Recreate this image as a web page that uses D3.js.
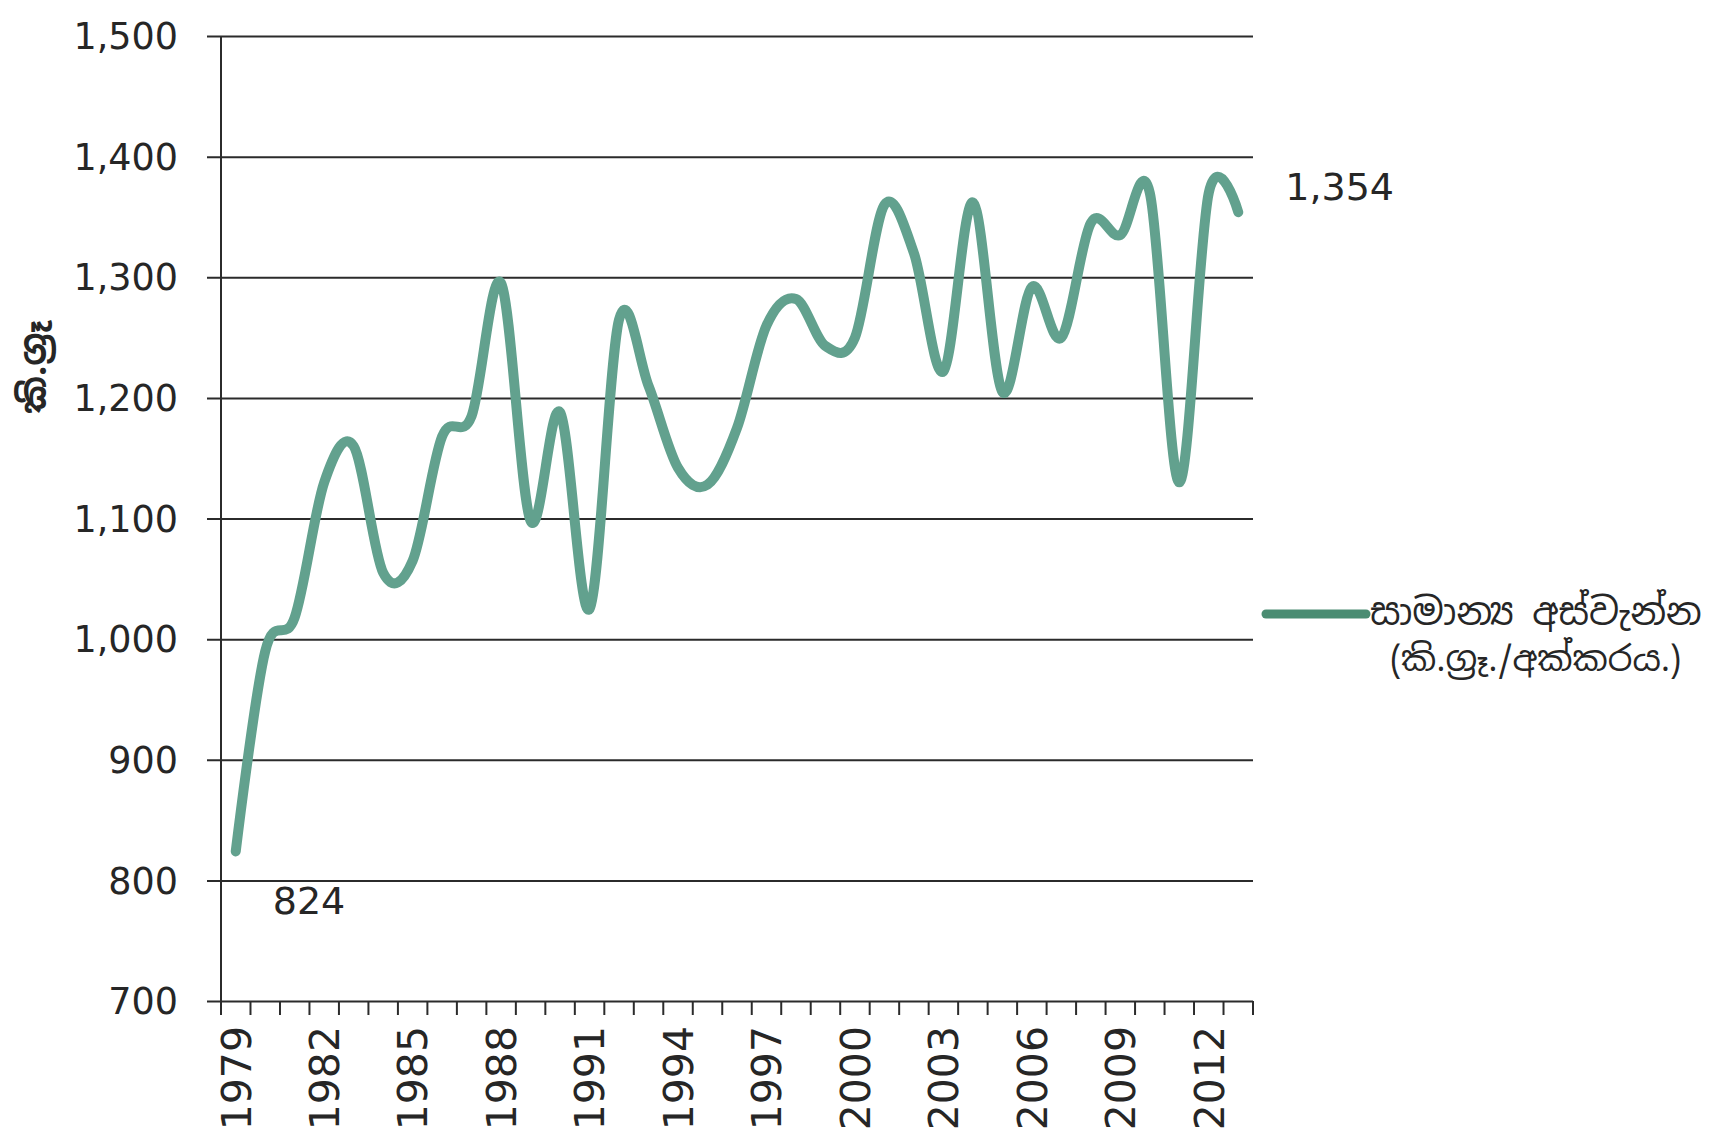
<!DOCTYPE html>
<html>
<head>
<meta charset="utf-8">
<script src="https://cdn.jsdelivr.net/npm/d3@7/dist/d3.min.js"></script>
<style>
body { margin: 0; background: #ffffff; }
text { font-family: "DejaVu Sans", Verdana, sans-serif; fill: #262626; }
.si { font-family: "Noto Sans Sinhala", "Iskoola Pota", "Noto Sans", sans-serif; }
.grid line { stroke: #2b2b2b; stroke-width: 2; }
.grid path { display: none; }
</style>
</head>
<body>
<div id="chart"></div>
<script>
let years = [1979, 1980, 1981, 1982, 1983, 1984, 1985, 1986, 1987, 1988,
    1989, 1990, 1991, 1992, 1993, 1994, 1995, 1996, 1997, 1998,
    1999, 2000, 2001, 2002, 2003, 2004, 2005, 2006, 2007, 2008,
    2009, 2010, 2011, 2012, 2013];

// average yield, kg per acre
let yields = [824, 990, 1018, 1130, 1160, 1055, 1065, 1168, 1185, 1295,
    1098, 1188, 1025, 1265, 1210, 1142, 1128, 1175, 1260, 1282,
    1243, 1250, 1360, 1320, 1222, 1362, 1205, 1292, 1250, 1345,
    1335, 1370, 1130, 1370, 1354];

let yTicks = [700, 800, 900, 1000, 1100, 1200, 1300, 1400, 1500];
let xLabelYears = [1979, 1982, 1985, 1988, 1991, 1994, 1997, 2000, 2003, 2006, 2009, 2012];

let yTitle = 'කි.ග්‍රෑ';
let legendLines = ['සාමාන්‍ය අස්වැන්න', '(කි.ග්‍රෑ./අක්කරය.)'];

let svgWidth = 1719;
let svgHeight = 1144;

let margin = { top: 36, right: 466, bottom: 143, left: 221 };
let chartWidth = svgWidth - margin.left - margin.right;
let chartHeight = svgHeight - margin.top - margin.bottom;

let lineColor = '#62a18e';

let $svg = d3.select('#chart')
    .append('svg')
    .attr('width', svgWidth)
    .attr('height', svgHeight);

$svg.append('rect')
    .attr('width', svgWidth)
    .attr('height', svgHeight)
    .attr('fill', '#ffffff');

let chartGroup = $svg.append('g')
    .attr('transform', `translate(${margin.left}, ${margin.top})`);

// scales
let xBand = d3.scaleBand()
    .domain(years)
    .range([0, chartWidth])
    .paddingInner(0)
    .paddingOuter(0);

let xCenter = yr => xBand(yr) + xBand.bandwidth() / 2;

let yLinearScale = d3.scaleLinear()
    .domain([700, 1500])
    .range([chartHeight, 0]);

// gridlines, running a bit past the axis as ticks
chartGroup.append('g')
    .attr('class', 'grid')
    .attr('transform', `translate(${chartWidth}, 0)`)
    .call(d3.axisLeft(yLinearScale)
        .tickValues(yTicks)
        .tickSize(chartWidth + 14)
        .tickFormat(''));

// y axis line
chartGroup.append('line')
    .attr('x1', 0).attr('x2', 0)
    .attr('y1', 0).attr('y2', chartHeight)
    .attr('stroke', '#2b2b2b')
    .attr('stroke-width', 2);

// y tick labels
chartGroup.append('g')
    .selectAll('text')
    .data(yTicks)
    .enter()
    .append('text')
    .attr('x', -43)
    .attr('y', d => yLinearScale(d))
    .attr('dy', '0.36em')
    .attr('text-anchor', 'end')
    .attr('font-size', 36.5)
    .text(d => d3.format(',')(d));

// x tick marks between categories
let boundaries = years.map(yr => xBand(yr)).concat([xBand.range()[1]]);
chartGroup.append('g')
    .selectAll('line')
    .data(boundaries)
    .enter()
    .append('line')
    .attr('x1', d => d).attr('x2', d => d)
    .attr('y1', chartHeight)
    .attr('y2', chartHeight + 14)
    .attr('stroke', '#2b2b2b')
    .attr('stroke-width', 2);

// x labels, rotated
chartGroup.append('g')
    .selectAll('text')
    .data(xLabelYears)
    .enter()
    .append('text')
    .attr('transform', d => `translate(${xCenter(d)}, ${chartHeight + 25}) rotate(-90)`)
    .attr('dy', '0.36em')
    .attr('text-anchor', 'end')
    .attr('font-size', 41)
    .text(d => d);

// y title
chartGroup.append('text')
    .attr('class', 'si')
    .attr('transform', `translate(${33 - margin.left}, ${367 - margin.top}) rotate(-90)`)
    .attr('dy', '0.35em')
    .attr('text-anchor', 'middle')
    .attr('font-size', 36)
    .attr('font-weight', 'bold')
    .text(yTitle);

// the smoothed line
let yieldLine = d3.line()
    .x((d, i) => xCenter(years[i]))
    .y(d => yLinearScale(d))
    .curve(d3.curveCardinal.tension(0));

chartGroup.append('path')
    .datum(yields)
    .attr('d', yieldLine)
    .attr('fill', 'none')
    .attr('stroke', lineColor)
    .attr('stroke-width', 10)
    .attr('stroke-linecap', 'round')
    .attr('stroke-linejoin', 'round');

// end labels
let last = years.length - 1;
chartGroup.append('text')
    .attr('x', xCenter(years[0]) + 37)
    .attr('y', yLinearScale(yields[0]) + 63)
    .attr('font-size', 38)
    .text(d3.format(',')(yields[0]));

chartGroup.append('text')
    .attr('x', xCenter(years[last]) + 47)
    .attr('y', yLinearScale(yields[last]) - 12)
    .attr('font-size', 38)
    .text(d3.format(',')(yields[last]));

// legend
let legend = $svg.append('g')
    .attr('transform', 'translate(1266, 614)');

legend.append('line')
    .attr('x1', 0).attr('x2', 100)
    .attr('y1', 0).attr('y2', 0)
    .attr('stroke', '#4a8c72')
    .attr('stroke-width', 9)
    .attr('stroke-linecap', 'round');

legend.append('text')
    .attr('class', 'si')
    .attr('x', 104)
    .attr('y', 11)
    .attr('font-size', 37)
    .text(legendLines[0]);

legend.append('text')
    .attr('class', 'si')
    .attr('x', 124)
    .attr('y', 57)
    .attr('font-size', 35)
    .text(legendLines[1]);
</script>
</body>
</html>
